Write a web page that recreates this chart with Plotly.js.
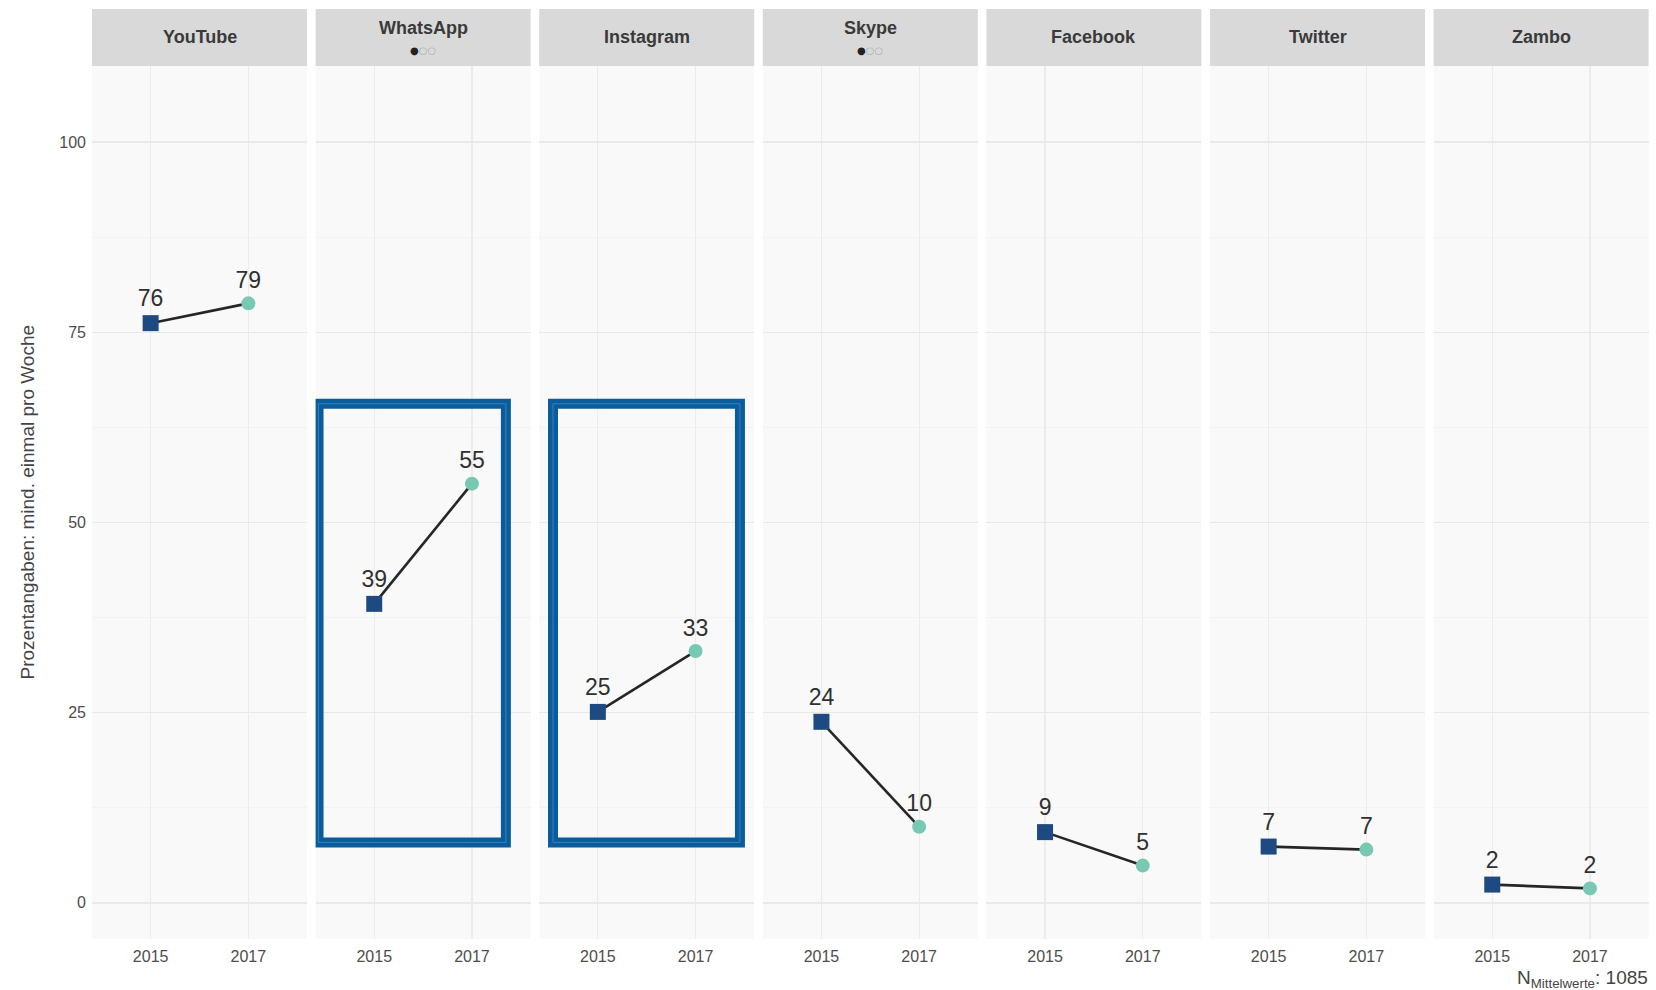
<!DOCTYPE html>
<html>
<head>
<meta charset="utf-8">
<script src="https://cdn.plot.ly/plotly-3.0.1.min.js"></script>
<style>html,body{margin:0;padding:0;background:#fff;}#chart{width:1656px;height:990px;}</style>
</head>
<body>
<div id="chart"></div>
<script>
// ---- data ----
const platforms = ["YouTube", "WhatsApp", "Instagram", "Skype", "Facebook", "Twitter", "Zambo"];
const years = ["2015", "2017"];
const values2015 = [76.2, 39.3, 25.1, 23.8, 9.3, 7.4, 2.4];
const values2017 = [78.8, 55.1, 33.1, 10.0, 4.9, 7.0, 1.9];
const stripDots = [false, true, false, true, false, false, false];
const yTicks = [0, 25, 50, 75, 100];
const yTitle = "Prozentangaben: mind. einmal pro Woche";
const nNote = "N<sub>Mittelwerte</sub>: 1085";
const highlighted = ["WhatsApp", "Instagram"];

// ---- layout constants (pixels) ----
const W = 1656, H = 990;
const mL = 92, mR = 6, mT = 66, mB = 51;
const plotW = W - mL - mR;
const plotH = H - mT - mB;
const panelW = 215, panelStep = 223.6;
const stripH = 57;

const col2015 = "#1d4a80", col2017 = "#78c8b4";
const font = "Liberation Sans, Arial, sans-serif";

const traces = [];
const layout = {
  width: W, height: H,
  margin: {l: mL, r: mR, t: mT, b: mB},
  paper_bgcolor: "#ffffff",
  plot_bgcolor: "#f9f9f9",
  showlegend: false,
  font: {family: font, color: "#4d4d4d"},
  shapes: [],
  annotations: []
};

layout.yaxis = {
  range: [-4.75, 110],
  tickvals: yTicks,
  ticktext: yTicks.map(String),
  showgrid: true, gridcolor: "#e9e9e9", gridwidth: 1.5,
  minor: {tickvals: [12.5, 37.5, 62.5, 87.5], showgrid: true, gridcolor: "#f1f1f1", gridwidth: 0.8},
  zeroline: false, showline: false, ticks: "",
  tickfont: {size: 16, color: "#4d4d4d", family: font},
  ticklabelstandoff: 5,
  fixedrange: true
};

platforms.forEach((p, i) => {
  const ax = i === 0 ? "" : String(i + 1);
  const x0 = (i * panelStep) / plotW;
  const x1 = (i * panelStep + panelW) / plotW;
  layout["xaxis" + ax] = {
    domain: [x0, x1],
    type: "category",
    range: [-0.6, 1.6],
    anchor: "y",
    showgrid: true, gridcolor: "#ececec", gridwidth: 1.2,
    zeroline: false, showline: false, ticks: "",
    tickfont: {size: 16, color: "#4d4d4d", family: font},
    ticklabelstandoff: 6,
    fixedrange: true
  };
  const vals = [values2015[i], values2017[i]];
  traces.push({
    type: "scatter",
    mode: "lines+markers+text",
    x: years, y: vals,
    xaxis: "x" + ax, yaxis: "y",
    opacity: 1,
    text: vals.map(v => String(Math.round(v))),
    textposition: "top center",
    textfont: {size: 23, color: "#303030", family: font},
    line: {color: "#262626", width: 2.6},
    marker: {
      symbol: ["square", "circle"],
      color: [col2015, col2017],
      opacity: 1,
      size: [16, 14],
      line: {width: 0}
    },
    cliponaxis: false,
    hoverinfo: "skip"
  });
  // strip
  layout.shapes.push({
    type: "rect", layer: "below",
    xref: "x" + ax + " domain", yref: "paper",
    x0: 0, x1: 1, y0: 1, y1: 1 + stripH / plotH,
    fillcolor: "#d9d9d9", line: {width: 0}
  });
  const stripMid = 1 + (stripH / 2) / plotH;
  if (stripDots[i]) {
    layout.annotations.push({
      xref: "x" + ax + " domain", yref: "paper",
      x: 0.5, y: 1 + (stripH - 19) / plotH, showarrow: false,
      text: p, font: {size: 18, color: "#3a3a3a", family: font, weight: "bold"},
      xanchor: "center", yanchor: "middle"
    });
    layout.annotations.push({
      xref: "x" + ax + " domain", yref: "paper",
      x: 0.5, y: 1 + 16 / plotH, showarrow: false,
      text: "●<span style='color:#b0b0b0'>○○</span>",
      font: {size: 10, color: "#222222", family: "DejaVu Sans"},
      xanchor: "center", yanchor: "middle"
    });
  } else {
    layout.annotations.push({
      xref: "x" + ax + " domain", yref: "paper",
      x: 0.5, y: stripMid, showarrow: false,
      text: p, font: {size: 18, color: "#3a3a3a", family: font, weight: "bold"},
      xanchor: "center", yanchor: "middle"
    });
  }
});

// highlight boxes around selected panels
const boxX = {"WhatsApp": [-0.57, 1.347], "Instagram": [-0.459, 1.454]};
highlighted.forEach(p => {
  const i = platforms.indexOf(p);
  const ax = "x" + (i === 0 ? "" : String(i + 1));
  const bx = boxX[p];
  layout.shapes.push({
    type: "rect", layer: "above", xref: ax, yref: "y",
    x0: bx[0], x1: bx[1], y0: 7.95, y1: 65.6,
    line: {color: "#0a5d9a", width: 10}, fillcolor: "rgba(0,0,0,0)"
  });
  layout.shapes.push({
    type: "rect", layer: "above", xref: ax, yref: "y",
    x0: bx[0], x1: bx[1], y0: 7.95, y1: 65.6,
    line: {color: "#3582c0", width: 1}, fillcolor: "rgba(0,0,0,0)"
  });
});

// y-axis title
layout.annotations.push({
  xref: "paper", yref: "paper",
  x: (27 - mL) / plotW, y: 0.5,
  text: yTitle, textangle: -90, showarrow: false,
  font: {size: 19, color: "#444444", family: font},
  xanchor: "center", yanchor: "middle"
});
// N note
layout.annotations.push({
  xref: "paper", yref: "paper",
  x: 1.0, y: -(979 - (mT + plotH)) / plotH,
  text: nNote, showarrow: false,
  font: {size: 19, color: "#444444", family: font},
  xanchor: "right", yanchor: "middle"
});

Plotly.newPlot("chart", traces, layout, {staticPlot: true, displayModeBar: false});
</script>
</body>
</html>
